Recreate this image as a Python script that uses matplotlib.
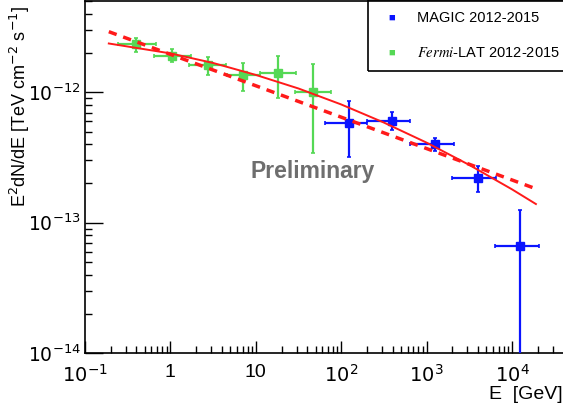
import numpy as np
import matplotlib.pyplot as plt
from matplotlib.ticker import LogLocator, NullFormatter, FixedLocator, FixedFormatter

plt.rcParams['font.family'] = ['Liberation Sans', 'DejaVu Sans']

# Fermi-LAT 2012-2015 (E in GeV, E^2dN/dE in TeV cm^-2 s^-1)
fermi_e = [0.40, 1.05, 2.75, 7.05, 18.2, 46.8]
fermi_elo = [0.243, 0.64, 1.66, 4.54, 11.1, 29.1]
fermi_ehi = [0.67, 1.72, 4.43, 11.1, 29.9, 76.8]
fermi_f = [2.33e-12, 1.91e-12, 1.62e-12, 1.36e-12, 1.40e-12, 1.00e-12]
fermi_flo = [2.05e-12, 1.70e-12, 1.36e-12, 1.03e-12, 0.90e-12, 0.34e-12]
fermi_fhi = [2.63e-12, 2.15e-12, 1.88e-12, 1.69e-12, 1.90e-12, 1.65e-12]

# MAGIC 2012-2015
magic_e = [123, 397, 1241, 3950, 12340]
magic_elo = [64.1, 202, 638, 2000, 6360]
magic_ehi = [202, 644, 2070, 6530, 20560]
magic_f = [5.85e-13, 6.06e-13, 3.99e-13, 2.215e-13, 6.63e-14]
magic_flo = [3.17e-13, 5.14e-13, 3.55e-13, 1.71e-13, 1e-16]
magic_fhi = [8.6e-13, 7.02e-13, 4.49e-13, 2.72e-13, 1.25e-13]

# fitted curves
curve_e = [0.19, 1, 3.16, 10, 31.6, 100, 316, 1000, 3162, 10000, 19000]
curve_f = [2.37e-12, 1.99e-12, 1.68e-12, 1.36e-12, 1.07e-12, 8.07e-13,
           5.86e-13, 4.11e-13, 2.77e-13, 1.80e-13, 1.39e-13]
pl_e = [0.19, 19000]
pl_f = [2.92e-12, 1.82e-13]

green = '#55d855'
blue = '#0a14ff'
red = '#ff1a1a'

fig = plt.figure(figsize=(5.63, 4.12), dpi=100)
ax = fig.add_axes([85/563, 59/412, 1 - 85/563, 1 - 59/412 - 0.003])
ax.set_xscale('log')
ax.set_yscale('log')
ax.set_xlim(0.1, 10**4.596)
ax.set_ylim(1e-14, 5.0e-12)


def xy_err(v, lo, hi):
    v = np.array(v)
    return np.array([v - np.array(lo), np.array(hi) - v])


ax.errorbar(fermi_e, fermi_f, xerr=xy_err(fermi_e, fermi_elo, fermi_ehi),
            yerr=xy_err(fermi_f, fermi_flo, fermi_fhi), fmt='s', color=green,
            ms=6, elinewidth=1.6, capsize=1.5, capthick=1.2, zorder=3)
ax.errorbar(magic_e, magic_f, xerr=xy_err(magic_e, magic_elo, magic_ehi),
            yerr=xy_err(magic_f, magic_flo, magic_fhi), fmt='s', color=blue,
            ms=6, elinewidth=1.6, capsize=1.5, capthick=1.2, zorder=3)

ax.plot(curve_e, curve_f, '-', color=red, lw=1.4, zorder=4)
ax.plot(pl_e, pl_f, '--', color=red, lw=2.5, dashes=(2.4, 2.0), zorder=4)

ax.text(0.476, 0.515, 'Preliminary', transform=ax.transAxes,
        ha='center', va='center', fontsize=16.5, fontweight='bold', color='#6e6e6e')

# ticks in ROOT style
ax.spines['right'].set_visible(False)
for s in ax.spines.values():
    s.set_linewidth(1.2)
ax.tick_params(which='both', direction='in', top=False, right=False, labelsize=14)
ax.tick_params(which='major', length=9, width=1)
ax.tick_params(which='minor', length=5, width=1)
ax.xaxis.set_major_locator(FixedLocator([0.1, 1, 10, 100, 1000, 10000]))
ax.xaxis.set_major_formatter(FixedFormatter(['$10^{-1}$', '1', '10', '$10^{2}$', '$10^{3}$', '$10^{4}$']))
ax.xaxis.set_minor_locator(LogLocator(base=10, subs=np.arange(2, 10), numticks=20))
ax.xaxis.set_minor_formatter(NullFormatter())
ax.yaxis.set_major_locator(FixedLocator([1e-14, 1e-13, 1e-12]))
ax.yaxis.set_major_formatter(FixedFormatter(['$10^{-14}$', '$10^{-13}$', '$10^{-12}$']))
ax.yaxis.set_minor_locator(LogLocator(base=10, subs=np.arange(2, 10), numticks=20))
ax.yaxis.set_minor_formatter(NullFormatter())
ax.tick_params(axis='y', which='major', length=13, labelsize=13.5, pad=3)
ax.tick_params(axis='x', pad=8)

ax.set_xlabel('E  [GeV]', fontsize=14, loc='right')
ax.xaxis.set_label_coords(1.0, -0.095)
ax.set_ylabel('E$^{2}$dN/dE [TeV cm$^{-2}$ s$^{-1}$]', fontsize=13, loc='top')
ax.yaxis.set_label_coords(-0.11, 0.987)

# legend box
leg_box = plt.Rectangle((368/563, 1 - 71/412), 0.5, 71/412, transform=fig.transFigure,
                        fill=False, edgecolor='black', lw=1.2)
fig.patches.append(leg_box)
fig.text(392/563, 1 - 18/412, '\u25a0', color=blue, fontsize=8, ha='center', va='center')
fig.text(417/563, 1 - 18/412, 'MAGIC 2012-2015', fontsize=10.5, va='center')
fig.text(392/563, 1 - 53/412, '\u25a0', color=green, fontsize=8, ha='center', va='center')
fig.text(417/563, 1 - 53/412, '$\\mathit{Fermi}$-LAT 2012-2015', fontsize=10.5, va='center',
         math_fontfamily='stix')

fig.savefig('out.png', dpi=100)
